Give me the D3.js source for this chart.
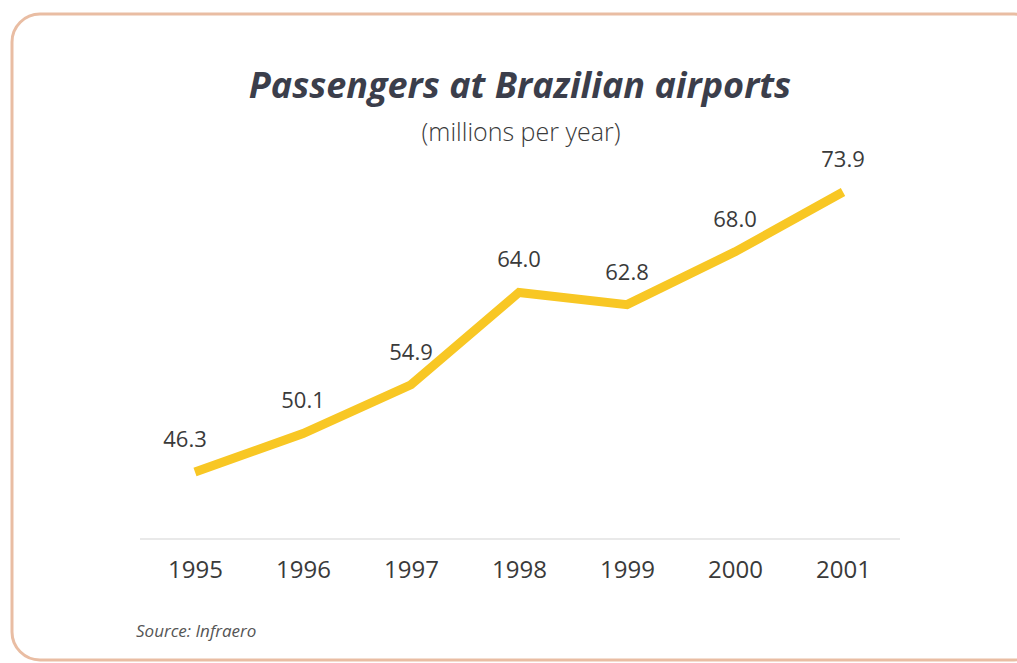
<!DOCTYPE html>
<html><head><meta charset="utf-8">
<script src="https://cdn.jsdelivr.net/npm/d3@7"></script>
<style>body{margin:0;background:#fff;}svg{display:block;}</style>
</head><body>
<script>
const years = ["1995","1996","1997","1998","1999","2000","2001"];
const passengers = [46.3, 50.1, 54.9, 64.0, 62.8, 68.0, 73.9];
const valueLabels = ["46.3","50.1","54.9","64.0","62.8","68.0","73.9"];
const title = "Passengers at Brazilian airports";
const subtitle = "(millions per year)";
const source = "Source: Infraero";

const W = 1017, H = 663;
const svg = d3.select("body").append("svg").attr("width", W).attr("height", H);

svg.append("rect").attr("x", 12).attr("y", 14).attr("width", 1030).attr("height", 646)
  .attr("rx", 28).attr("fill", "#fff").attr("stroke", "#e9bda3").attr("stroke-width", 3);

const x = d3.scalePoint().domain(years).range([195, 843]);
const y = d3.scaleLinear().domain([39.7, 73.9]).range([539, 192]);

svg.append("text").attr("x", 520).attr("y", 98).attr("text-anchor", "middle")
  .attr("font-family", "Open Sans").attr("font-weight", 700).attr("font-style", "italic")
  .attr("font-size", 36).attr("fill", "#3b3e4b").text(title);
svg.append("text").attr("x", 521).attr("y", 141).attr("text-anchor", "middle")
  .attr("font-family", "Open Sans").attr("font-weight", 300).attr("font-size", 25).attr("fill", "#3a3a3a").text(subtitle);

// axis baseline
const xAxis = d3.axisBottom(x).tickSize(0).tickPadding(24);
const ax = svg.append("g").attr("transform", `translate(0,${y(39.7)})`).call(xAxis);
ax.select(".domain").remove();
ax.append("line").attr("x1", 140).attr("x2", 900).attr("y1", 0).attr("y2", 0)
  .attr("stroke", "#e2e2e2").attr("stroke-width", 1.5);
ax.selectAll(".tick text").attr("font-family", "Open Sans").attr("font-size", 24)
  .attr("fill", "#3a3a3a").attr("dy", "0.62em");

const line = d3.line().x((d, i) => x(years[i])).y(d => y(d));
svg.append("path").datum(passengers).attr("d", line).attr("fill", "none")
  .attr("stroke", "#f8c724").attr("stroke-width", 9).attr("stroke-linejoin", "miter");

svg.selectAll(".vl").data(passengers).enter().append("text")
  .attr("x", (d, i) => x(years[i]) + (i === 0 ? -10 : 0))
  .attr("y", d => y(d) - 25).attr("text-anchor", "middle")
  .attr("font-family", "Open Sans").attr("font-size", 22).attr("fill", "#3a3a3a")
  .text((d, i) => valueLabels[i]);

svg.append("text").attr("x", 136).attr("y", 637)
  .attr("font-family", "Open Sans").attr("font-style", "italic").attr("font-size", 17)
  .attr("fill", "#555").text(source);
</script>
</body></html>
